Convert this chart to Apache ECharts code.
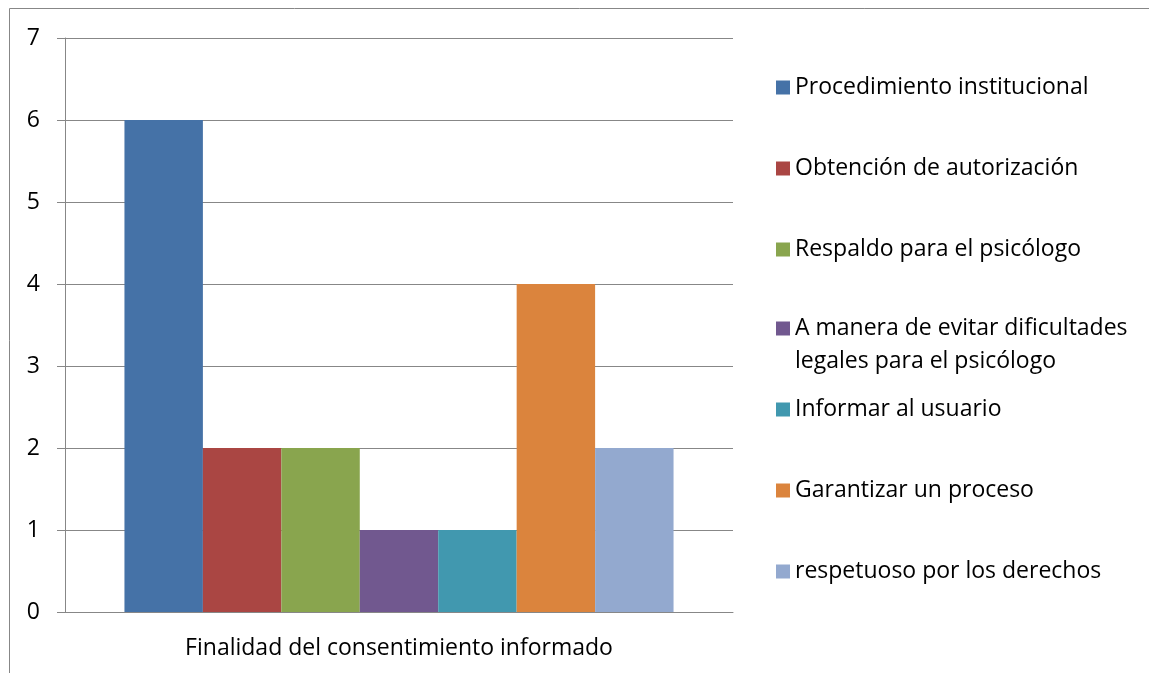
<!DOCTYPE html>
<html lang="es" style="height: 100%">
<head>
  <meta charset="utf-8">
</head>
<body style="height: 100%; margin: 0; background: #fff">
  <div id="container" style="height: 100%"></div>
  <script type="text/javascript" src="https://cdn.jsdelivr.net/npm/echarts@6/dist/echarts.min.js"></script>
  <script type="text/javascript">
    var category = ['Finalidad del consentimiento informado'];
    var seriesNames = [
      'Procedimiento institucional',
      'Obtención de autorización',
      'Respaldo para el psicólogo',
      'A manera de evitar dificultades legales para el psicólogo',
      'Informar al usuario',
      'Garantizar un proceso',
      'respetuoso por los derechos'
    ];
    var seriesValues = [6, 2, 2, 1, 1, 4, 2];
    var colors = ['#4572A7', '#AA4643', '#89A54E', '#71588F', '#4198AF', '#DB843D', '#93A9CF'];
    var yTicks = [0, 1, 2, 3, 4, 5, 6, 7];

    var font = '"Open Sans", "DejaVu Sans", sans-serif';
    var gray = '#878787';

    var myChart = echarts.init(document.getElementById('container'));

    // la leyenda va en tres bloques para que el texto de dos líneas no mueva el resto
    function legendBlock(names, top, extra) {
      return Object.assign({
        orient: 'vertical',
        left: 776,
        top: top,
        padding: 0,
        itemWidth: 14,
        itemHeight: 14,
        itemGap: 48,
        icon: 'rect',
        selectedMode: false,
        data: names,
        textStyle: { fontFamily: font, fontSize: 23, color: '#000', lineHeight: 33 }
      }, extra || {});
    }

    myChart.setOption({
      animation: false,
      color: colors,
      grid: { left: 65, right: 416, top: 38, bottom: 61 },
      legend: [
        legendBlock(seriesNames.slice(0, 3), 71),
        // línea vacía arriba: así el cuadro queda alineado con la primera línea
        legendBlock([seriesNames[3]], 279, {
          formatter: function (name) {
            return ' \nA manera de evitar dificultades\nlegales para el psicólogo';
          }
        }),
        legendBlock(seriesNames.slice(4), 393)
      ],
      xAxis: {
        type: 'category',
        data: category,
        axisLine: { lineStyle: { color: gray, width: 1 } },
        axisTick: { length: 8, lineStyle: { color: gray } },
        axisLabel: { fontFamily: font, fontSize: 23, color: '#000', margin: 25 }
      },
      yAxis: {
        type: 'value',
        min: yTicks[0],
        max: yTicks[yTicks.length - 1],
        interval: 1,
        axisLine: { show: true, lineStyle: { color: gray, width: 1 } },
        axisTick: { show: true, length: 8, lineStyle: { color: gray } },
        axisLabel: { fontFamily: font, fontSize: 23, color: '#000', margin: 25 },
        splitLine: { lineStyle: { color: gray, width: 1 } }
      },
      series: seriesNames.map(function (name, i) {
        return {
          name: name,
          type: 'bar',
          barGap: '0%',
          barCategoryGap: '17.8%',
          data: [seriesValues[i]]
        };
      }),
      graphic: [
        { type: 'line', shape: { x1: 9.5, y1: 8.5, x2: 1149, y2: 8.5 }, style: { stroke: gray, lineWidth: 1 } },
        { type: 'line', shape: { x1: 9.5, y1: 8.5, x2: 9.5, y2: 673 }, style: { stroke: gray, lineWidth: 1 } }
      ]
    });
  </script>
</body>
</html>
